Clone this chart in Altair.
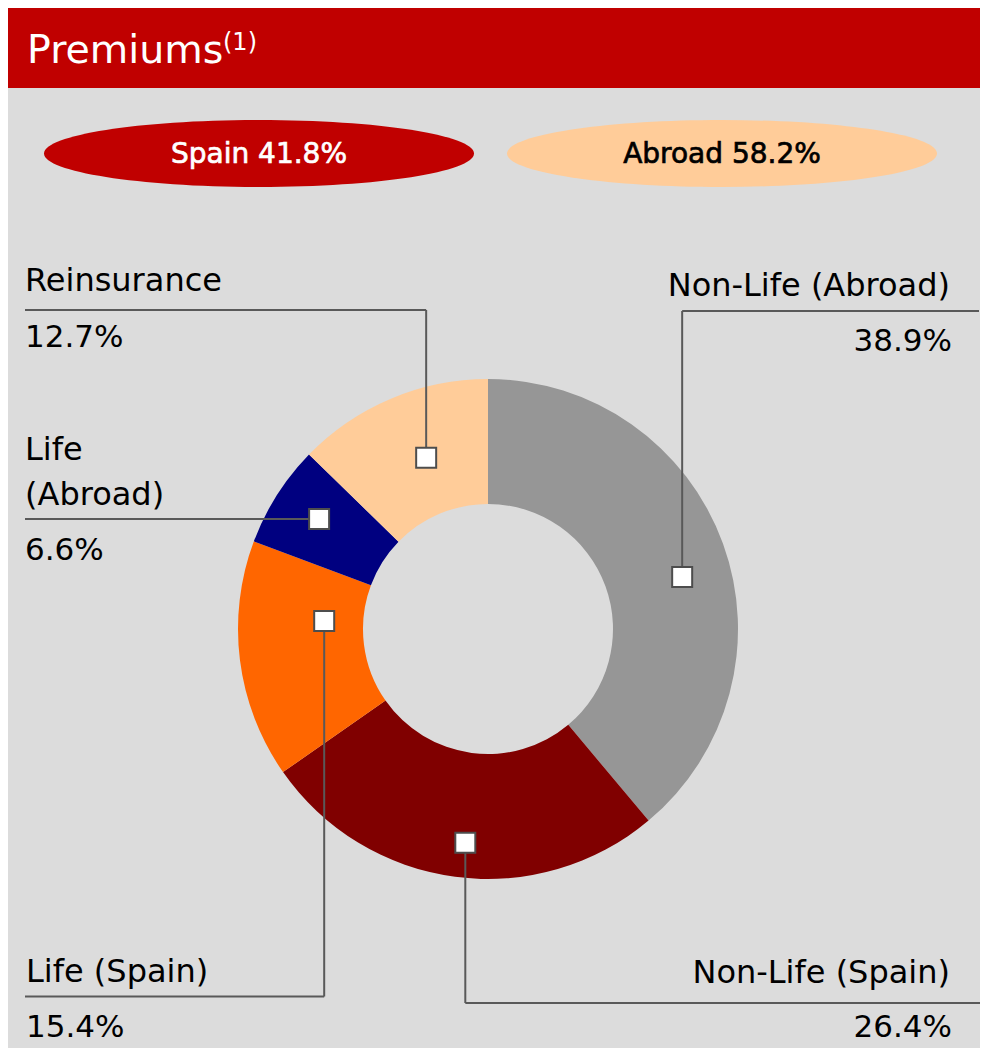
import math
import altair as alt
import pandas as pd

# ---------------- data ----------------
categories = ["Non-Life (Abroad)", "Non-Life (Spain)", "Life (Spain)", "Life (Abroad)", "Reinsurance"]
shares = [38.9, 26.4, 15.4, 6.6, 12.7]
region_names = ["Spain", "Abroad"]
region_shares = [41.8, 58.2]
title_text = "Premiums"
title_note = "(1)"

# ---------------- style ----------------
slice_colors = ["#969696", "#800000", "#FF6600", "#000080", "#FFCC99"]
region_fill = ["#C00000", "#FFCC99"]
region_text_color = ["#FFFFFF", "#000000"]
BG = "#DCDCDC"
HEADER = "#C00000"
LINE = "#595959"
FONT = "DejaVu Sans"

# ---------------- layout (page coordinates) ----------------
OFF = 8
W, H = 972, 1040
CX, CY = 488, 629
R_OUT, R_IN = 250, 125
REGION_CENTERS = [(259, 153.5), (722, 153.5)]
REGION_RX, REGION_RY = 215, 33.5

label_layout = {
    "Non-Life (Abroad)": dict(dang=5.0, rad=201, elbow_y=311, end_x=979, side="right",
                              lines=["Non-Life (Abroad)"], line_y=[296], tx=950, px=952, py=351),
    "Non-Life (Spain)": dict(dang=-1.5, rad=215, elbow_y=1003, end_x=985, side="right",
                             lines=["Non-Life (Spain)"], line_y=[983], tx=950, px=952, py=1037),
    "Life (Spain)": dict(dang=10.0, rad=164, elbow_y=996.5, end_x=25, side="left",
                         lines=["Life (Spain)"], line_y=[982], tx=26, px=26, py=1037),
    "Life (Abroad)": dict(dang=0.7, rad=201.6, elbow_y=None, end_x=25, side="left",
                          lines=["Life", "(Abroad)"], line_y=[460, 505], tx=25, px=25, py=560),
    "Reinsurance": dict(dang=3.0, rad=182, elbow_y=310, end_x=25, side="left",
                        lines=["Reinsurance"], line_y=[291], tx=25, px=25, py=347),
}


def px(v):
    return v - OFF


# ---------------- derived tables ----------------
total = sum(shares)
donut_df = pd.DataFrame({"category": categories, "share": shares, "order": list(range(len(categories)))})

markers, rules, texts = [], [], []
cum = 0.0
for cat, v in zip(categories, shares):
    mid = (cum + v / 2) / total * 360
    cum += v
    lay = label_layout[cat]
    a = math.radians(mid + lay["dang"])
    mx = CX + lay["rad"] * math.sin(a)
    my = CY - lay["rad"] * math.cos(a)
    ey = my if lay["elbow_y"] is None else lay["elbow_y"]
    markers.append({"x": px(mx), "y": px(my)})
    if lay["elbow_y"] is not None:
        rules.append({"x": px(mx), "x2": px(mx), "y": px(my), "y2": px(ey)})
    rules.append({"x": px(mx), "x2": px(lay["end_x"]), "y": px(ey), "y2": px(ey)})
    for t, ly in zip(lay["lines"], lay["line_y"]):
        texts.append({"x": px(lay["tx"]), "y": px(ly), "text": t, "side": lay["side"], "size": 32})
    texts.append({"x": px(lay["px"]), "y": px(lay["py"]), "text": f"{v:.1f}%", "side": lay["side"], "size": 31})

markers_df = pd.DataFrame(markers)
rules_df = pd.DataFrame(rules)
texts_df = pd.DataFrame(texts)

region_df = pd.DataFrame({
    "x": [px(c[0]) for c in REGION_CENTERS],
    "y": [px(c[1]) for c in REGION_CENTERS],
    "label": [f"{n} {v:.1f}%" for n, v in zip(region_names, region_shares)],
    "name": region_names,
})

XS = lambda f: alt.X(f, type="quantitative", scale=None, axis=None)
YS = lambda f: alt.Y(f, type="quantitative", scale=None, axis=None)

# ---------------- layers ----------------
header = alt.Chart(pd.DataFrame({"k": [0]})).mark_rect(color=HEADER).encode(
    x=alt.value(0), x2=alt.value(W), y=alt.value(0), y2=alt.value(px(88))
)
title_df = pd.DataFrame({"x": [px(27), px(223)], "y": [px(63), px(50)],
                         "text": [title_text, title_note], "size": [39.5, 24]})
title = alt.Chart(title_df).mark_text(align="left", baseline="alphabetic", font=FONT, color="white").encode(
    x=XS("x"), y=YS("y"), text="text:N", size=alt.Size("size:Q", scale=None, legend=None)
)

ell_ratio = REGION_RY / REGION_RX
ellipse_path = f"M-1,0A1,{ell_ratio:.4f},0,1,0,1,0A1,{ell_ratio:.4f},0,1,0,-1,0Z"
ellipses = alt.Chart(region_df).mark_point(
    shape=ellipse_path, filled=True, opacity=1, size=(2 * REGION_RX) ** 2, strokeWidth=0
).encode(
    x=XS("x"), y=YS("y"),
    color=alt.Color("name:N", scale=alt.Scale(domain=region_names, range=region_fill), legend=None),
)
region_text = alt.Chart(region_df).mark_text(
    align="center", baseline="middle", font=FONT, fontSize=28, dy=1, strokeWidth=0.7
).encode(
    x=XS("x"), y=YS("y"), text="label:N",
    color=alt.Color("name:N", scale=alt.Scale(domain=region_names, range=region_text_color), legend=None),
    stroke=alt.Stroke("name:N", scale=alt.Scale(domain=region_names, range=region_text_color), legend=None),
)

donut = alt.Chart(donut_df).mark_arc(innerRadius=R_IN, outerRadius=R_OUT).encode(
    theta=alt.Theta("share:Q", stack=True),
    order=alt.Order("order:Q"),
    color=alt.Color("category:N", scale=alt.Scale(domain=categories, range=slice_colors), legend=None),
    x=alt.value(px(CX)), y=alt.value(px(CY)),
)

leaders = alt.Chart(rules_df).mark_rule(color=LINE, strokeWidth=2).encode(
    x=XS("x"), x2="x2:Q", y=YS("y"), y2="y2:Q"
)
marks = alt.Chart(markers_df).mark_point(
    shape="square", filled=True, fill="white", stroke="#4D4D4D", strokeWidth=2, size=400, opacity=1
).encode(x=XS("x"), y=YS("y"))

text_left = alt.Chart(texts_df).transform_filter("datum.side == 'left'").mark_text(
    align="left", baseline="alphabetic", font=FONT, color="#000000"
).encode(x=XS("x"), y=YS("y"), text="text:N", size=alt.Size("size:Q", scale=None, legend=None))
text_right = alt.Chart(texts_df).transform_filter("datum.side == 'right'").mark_text(
    align="right", baseline="alphabetic", font=FONT, color="#000000"
).encode(x=XS("x"), y=YS("y"), text="text:N", size=alt.Size("size:Q", scale=None, legend=None))

chart = alt.layer(
    header, title, ellipses, region_text, donut, leaders, marks, text_left, text_right
).resolve_scale(color="independent", stroke="independent").properties(
    width=W, height=H, padding=0, background=BG, autosize=alt.AutoSizeParams(type="none")
).configure_view(stroke=None)

chart.save("out.html", embed_options={"renderer": "svg", "actions": False})
